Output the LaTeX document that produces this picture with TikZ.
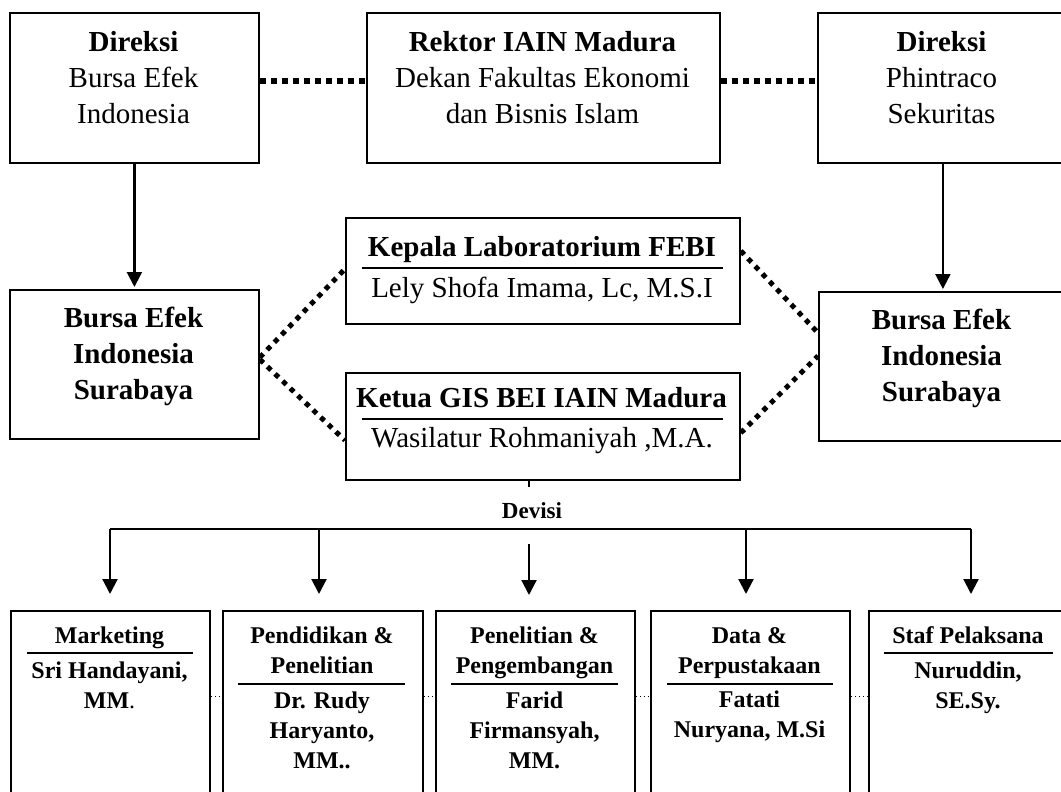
\documentclass[tikz,border=0pt]{standalone}
\usepackage{fontspec}
\setmainfont{Liberation Serif}
\usetikzlibrary{arrows.meta,calc}
\newcommand{\fl}{\rule{0pt}{25pt}}
\newcommand{\fs}{\rule{0pt}{21pt}}
\begin{document}
\begin{tikzpicture}[x=1pt,y=-1pt,
  box/.style={draw, line width=1.8pt, anchor=north west, inner sep=0pt},
  bigtxt/.style={anchor=north, inner sep=0pt, align=center, font=\fontsize{29}{36}\selectfont},
  smtxt/.style={anchor=north, inner sep=0pt, align=center, font=\fontsize{24}{30}\selectfont\bfseries},
  rulel/.style={line width=1.8pt},
  arr/.style={line width=2.2pt, -{Triangle[length=15pt,width=15pt]}},
  busline/.style={line width=2.2pt},
  dotbig/.style={line width=5.5pt, dash pattern=on 6.5pt off 4.5pt},
  dotdiag/.style={line width=5pt, dash pattern=on 5pt off 5.5pt},
  dotsmall/.style={line width=1.4pt, dash pattern=on 1.6pt off 2.4pt}]
\useasboundingbox (0,0) rectangle (1061,792);
\clip (0,0) rectangle (1061,792);
\fill[white] (0,0) rectangle (1061,792);

% boxes
\node[box, minimum width=249pt, minimum height=150pt] (dir1) at (9,12) {};
\node[box, minimum width=353pt, minimum height=150pt] (rektor) at (366,12) {};
\node[box, minimum width=250pt, minimum height=150pt] (dir2) at (817,12) {};
\node[box, minimum width=249pt, minimum height=149pt] (bei1) at (9,289) {};
\node[box, minimum width=248pt, minimum height=149pt] (bei2) at (818,291) {};
\node[box, minimum width=394pt, minimum height=106pt] (lab) at (345,217) {};
\node[box, minimum width=394pt, minimum height=107pt] (gis) at (345,372) {};
\node[box, minimum width=199pt, minimum height=200pt] (b1) at (10,610) {};
\node[box, minimum width=200pt, minimum height=200pt] (b2) at (222,610) {};
\node[box, minimum width=199pt, minimum height=200pt] (b3) at (435,610) {};
\node[box, minimum width=199pt, minimum height=200pt] (b4) at (650,610) {};
\node[box, minimum width=200pt, minimum height=200pt] (b5) at (868,610) {};

% texts
\node[bigtxt] (tdir1) at (133.5,26) {\fl\textbf{Direksi}\\Bursa Efek\\Indonesia};
\node[bigtxt] (trektor) at (542.5,26) {\fl\textbf{Rektor IAIN Madura}\\Dekan Fakultas Ekonomi\\dan Bisnis Islam};
\node[bigtxt] (tdir2) at (941.5,26) {\fl\textbf{Direksi}\\Phintraco\\Sekuritas};
\node[bigtxt, font=\fontsize{29}{36}\selectfont\bfseries] (tbei1) at (133.5,302) {\fl Bursa Efek\\Indonesia\\Surabaya};
\node[bigtxt, font=\fontsize{29}{36}\selectfont\bfseries] (tbei2) at (941.5,304) {\fl Bursa Efek\\Indonesia\\Surabaya};
\node[bigtxt, font=\fontsize{29}{36}\selectfont\bfseries] (tlab) at (542,231) {\fl Kepala Laboratorium FEBI};
\node[bigtxt] (nlab) at (542,272) {\fl Lely Shofa Imama, Lc, M.S.I};
\node[bigtxt, font=\fontsize{29}{36}\selectfont\bfseries] (tgis) at (541.5,382) {\fl Ketua GIS BEI IAIN Madura};
\node[bigtxt] (ngis) at (542,422) {\fl Wasilatur Rohmaniyah ,M.A.};
\draw[rulel] (362,268) -- (723,268);
\draw[rulel] (362,419) -- (723,419);

\node[smtxt] (tb1) at (109.5,622) {\fs Marketing};
\node[smtxt] (nb1) at (109.5,657) {\fs Sri Handayani,\\MM\mdseries.};
\node[smtxt] (tb2) at (322,622) {\fs Pendidikan \&\\Penelitian};
\node[smtxt] (nb2) at (322,687) {\fs Dr. Rudy\\Haryanto,\\MM..};
\node[smtxt] (tb3) at (534.5,622) {\fs Penelitian \&\\Pengembangan};
\node[smtxt] (nb3) at (534.5,687) {\fs Farid\\Firmansyah,\\MM.};
\node[smtxt] (tb4) at (749.5,622) {\fs Data \&\\Perpustakaan};
\node[smtxt] (nb4) at (749.5,686) {\fs Fatati\\Nuryana, M.Si};
\node[smtxt] (tb5) at (968,622) {\fs Staf Pelaksana};
\node[smtxt] (nb5) at (968,657) {\fs Nuruddin,\\SE.Sy.};
\draw[rulel] (27,653) -- (193,653);
\draw[rulel] (238,684) -- (405,684);
\draw[rulel] (451,684) -- (618,684);
\draw[rulel] (667,684) -- (833,684);
\draw[rulel] (884,653) -- (1053,653);

% connectors top
\draw[arr] (dir1.south) -- ([yshift=2pt]bei1.north);
\draw[arr] (dir2.south) -- ([yshift=2pt]bei2.north);
\draw[dotbig] ([yshift=7pt]dir1.east) -- ([yshift=7pt]rektor.west);
\draw[dotbig] ([yshift=7pt]rektor.east) -- ([yshift=7pt]dir2.west);

% diagonal dotted
\draw[dotdiag] ([yshift=7pt]bei1.east) -- ([yshift=2pt]lab.west);
\draw[dotdiag] ([yshift=5pt]bei1.east) -- ([yshift=-14pt]gis.west);
\draw[dotdiag] ([yshift=20pt]lab.east) -- ([yshift=33.5pt]bei2.west);
\draw[dotdiag] ([yshift=-6.5pt]gis.east) -- ([yshift=10.5pt]bei2.west);

% devisi
\coordinate (hub) at (529,529);
\coordinate (busL) at (110,529);
\coordinate (bus2) at (319,529);
\coordinate (bus4) at (746,529);
\coordinate (busR) at (971,529);
\coordinate (dv) at (529,544);
\node[anchor=base, inner sep=0pt, font=\fontsize{23}{28}\selectfont\bfseries] (devisi) at (532,518) {Devisi};
\draw[busline] (gis.south -| hub) -- ++(0,6);
\draw[busline] (busL) -- (busR);
\draw[arr, shorten >=16pt] (busL) -- (busL |- b1.north);
\draw[arr, shorten >=16pt] (bus2) -- (bus2 |- b2.north);
\draw[arr, shorten >=15pt] (dv) -- (dv |- b3.north);
\draw[arr, shorten >=16pt] (bus4) -- (bus4 |- b4.north);
\draw[arr, shorten >=16pt] (busR) -- (busR |- b5.north);

% small dots between bottom boxes
\draw[dotsmall] ([yshift=14.5pt]b1.east) -- ([yshift=14.5pt]b2.west);
\draw[dotsmall] ([yshift=14.5pt]b2.east) -- ([yshift=14.5pt]b3.west);
\draw[dotsmall] ([yshift=14.5pt]b3.east) -- ([yshift=14.5pt]b4.west);
\draw[dotsmall] ([yshift=14.5pt]b4.east) -- ([yshift=14.5pt]b5.west);
\end{tikzpicture}
\end{document}
